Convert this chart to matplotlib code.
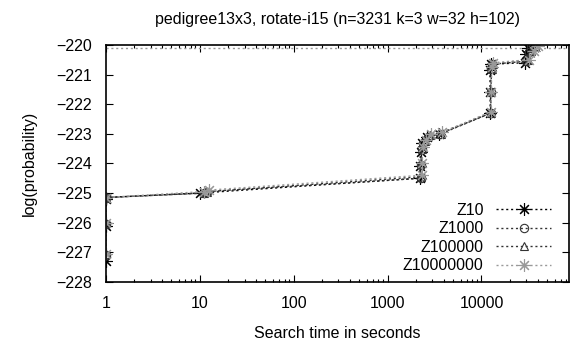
import matplotlib
matplotlib.use("Agg")
import matplotlib.pyplot as plt
from matplotlib.ticker import LogLocator, NullFormatter, FixedLocator

plt.rcParams["font.family"] = ["Liberation Sans", "DejaVu Sans"]
plt.rcParams["font.size"] = 11.5

title = "pedigree13x3, rotate-i15 (n=3231 k=3 w=32 h=102)"
names = ["Z10", "Z1000", "Z100000", "Z10000000"]

# anytime profiles: search time (s) and log probability
t_z10 = [1, 1, 1, 1, 10, 2200, 2200, 2250, 2350, 2600, 3500, 12400, 12400, 12300, 12600, 29000, 30000, 31000]
v_z10 = [-227.3, -226.1, -225.2, -225.15, -225.0, -224.5, -224.1, -223.6, -223.3, -223.1, -223.0,
         -222.3, -221.6, -220.85, -220.65, -220.6, -220.3, -220.1]
t_z1000 = [1, 1, 1, 11, 12, 2250, 2250, 2300, 2400, 2700, 3600, 12500, 12500, 12700, 13000, 30000, 32000, 34000]
v_z1000 = [-227.1, -226.05, -225.15, -225.0, -224.95, -224.5, -224.05, -223.5, -223.3, -223.1, -223.0,
           -222.3, -221.6, -220.8, -220.65, -220.55, -220.25, -220.1]
t_z100000 = [1, 1, 1, 11, 12, 2250, 2250, 2350, 2500, 2800, 3700, 12600, 12600, 12800, 13200, 31000, 34000, 37000]
v_z100000 = [-227.05, -226.0, -225.15, -225.0, -224.95, -224.45, -224.0, -223.5, -223.25, -223.05, -223.0,
             -222.3, -221.6, -220.8, -220.65, -220.5, -220.2, -220.05]
t_z1e7 = [1, 1, 1, 11, 12.5, 2300, 2300, 2400, 2550, 2900, 3800, 12700, 12700, 12900, 13300, 32000, 36000, 40000]
v_z1e7 = [-227.05, -226.0, -225.15, -224.95, -224.9, -224.4, -224.0, -223.45, -223.2, -223.0, -222.95,
          -222.25, -221.6, -220.75, -220.6, -220.5, -220.2, -220.05]
best_value = -220.12

series = [(t_z10, v_z10), (t_z1000, v_z1000), (t_z100000, v_z100000), (t_z1e7, v_z1e7)]
colors = ["black", "#333333", "#333333", "#999999"]
markers = [(8, 2, 0), "o", "^", (8, 2, 0)]
msizes = [9, 6, 6, 9]

fig = plt.figure(figsize=(5.78, 3.43), dpi=100)
ax = fig.add_axes([0.183, 0.178, 0.801, 0.691])

ax.axhline(best_value, color="#999999", linestyle=(0, (1.5, 2)), linewidth=1)

for (t, v), name, c, m, ms in zip(series, names, colors, markers, msizes):
    ax.plot(t, v, linestyle=(0, (1.5, 2)), color=c, linewidth=1,
            marker=m, markersize=ms, markerfacecolor="none", markeredgecolor=c,
            markeredgewidth=0.8, label=name)

ax.set_xscale("log")
ax.set_xlim(1, 85000)
ax.set_ylim(-228, -220)
ax.yaxis.set_major_locator(FixedLocator(range(-228, -219)))
ax.xaxis.set_minor_locator(LogLocator(base=10, subs=range(2, 10)))
ax.xaxis.set_minor_formatter(NullFormatter())
ax.set_xticks([1, 10, 100, 1000, 10000])
ax.set_xticklabels(["1", "10", "100", "1000", "10000"])
ax.tick_params(which="both", direction="in", top=True, right=True)
ax.tick_params(which="major", length=5, width=0.8)
ax.tick_params(axis="x", which="major", pad=10)
ax.tick_params(axis="y", which="major", pad=10)
ax.tick_params(which="minor", length=2.5, width=0.8)
for s in ax.spines.values():
    s.set_linewidth(1.2)

ax.set_xlabel("Search time in seconds", labelpad=11)
ax.set_ylabel("log(probability)", labelpad=14)
ax.set_title(title, fontsize=11.5, pad=15)

leg = ax.legend(loc="lower right", frameon=False, markerfirst=False, handlelength=3.4,
                handletextpad=0.8, labelspacing=0.22, borderaxespad=0.0,
                bbox_to_anchor=(0.975, 0.01))
for txt in leg.get_texts():
    txt.set_ha("right")
leg._legend_box.align = "right"

fig.savefig("out.png", dpi=100)
